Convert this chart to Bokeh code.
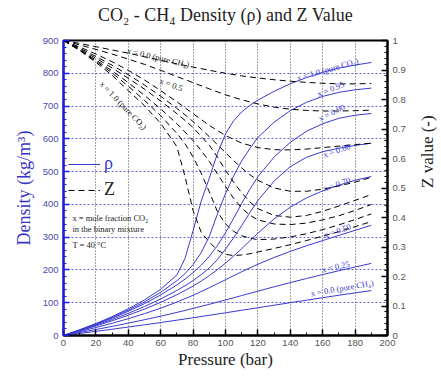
from bokeh.plotting import figure
from bokeh.models import (Range1d, LinearAxis, SingleIntervalTicker, Legend, LegendItem,
                          Label, CustomJSTickFormatter, Title)
from bokeh.core.properties import value
from bokeh.embed import file_html
from bokeh.resources import INLINE
import math

# ---------------- data ----------------
P_fine = [0, 10, 20, 30, 40, 50, 60, 70, 75, 80, 85, 90, 95, 100, 105, 110, 115, 120,
          130, 140, 150, 160, 170, 180, 190]
P_coarse = [0, 10, 20, 30, 40, 50, 60, 70, 80, 90, 100, 110, 120, 130, 140, 150, 160,
            170, 180, 190]

rho_x100 = [0, 17.5, 36.5, 57.5, 81.5, 108.5, 141, 185, 235, 320, 410, 480, 555, 615, 655,
            682, 702, 718, 745, 768, 787, 803, 816, 825, 833]
z_x100 = [1.0, 0.966, 0.926, 0.882, 0.830, 0.779, 0.719, 0.640, 0.539, 0.423, 0.350, 0.317,
          0.289, 0.275, 0.271, 0.273, 0.277, 0.283, 0.295, 0.308, 0.322, 0.337, 0.352, 0.369, 0.386]

rho_x95 = [0, 16.9, 35.2, 55.2, 77.5, 102.7, 131.8, 167.2, 188.8, 216.4, 252.9, 302.4, 370.2,
           433.0, 486.8, 532.6, 570.3, 604.3, 650.6, 686.0, 711.6, 729.4, 741.9, 749.6, 754.7]
z_x95 = [1.0, 0.967, 0.930, 0.890, 0.845, 0.797, 0.745, 0.685, 0.650, 0.605, 0.550, 0.487, 0.420,
         0.378, 0.353, 0.338, 0.330, 0.325, 0.327, 0.334, 0.345, 0.359, 0.375, 0.393, 0.412]

rho_x90 = [0, 16.4, 33.9, 52.9, 73.9, 97.2, 123.7, 154.3, 172.0, 191.9, 214.6, 241.4, 274.4,
           313.4, 357.4, 403.0, 446.1, 484.5, 544.4, 589.3, 623.2, 646.0, 662.7, 672.0, 677.3]
z_x90 = [1.0, 0.968, 0.934, 0.897, 0.857, 0.814, 0.768, 0.718, 0.690, 0.660, 0.627, 0.590, 0.548,
         0.505, 0.465, 0.432, 0.408, 0.392, 0.378, 0.376, 0.381, 0.392, 0.406, 0.424, 0.444]

rho_x80 = [0, 15.2, 31.4, 48.8, 67.7, 88.4, 111.4, 137.4, 151.8, 167.4, 185.8, 205.9, 231.7,
           263.5, 298.0, 335.4, 374.6, 411.8, 471.3, 515.2, 543.8, 560.8, 571.4, 579.9, 586.5]
z_x80 = [1.0, 0.971, 0.940, 0.907, 0.872, 0.835, 0.795, 0.752, 0.729, 0.705, 0.675, 0.645, 0.605,
         0.560, 0.520, 0.484, 0.453, 0.430, 0.407, 0.401, 0.407, 0.421, 0.439, 0.458, 0.478]

rho_x70 = [0, 14.0, 28.9, 44.8, 61.9, 80.6, 101.2, 124.4, 137.2, 151.0, 166.1, 182.7, 200.9,
           220.7, 242.2, 264.9, 288.7, 312.1, 355.7, 391.7, 419.7, 441.3, 458.7, 473.6, 485.0]
z_x70 = [1.0, 0.974, 0.946, 0.916, 0.884, 0.849, 0.811, 0.770, 0.748, 0.725, 0.700, 0.674, 0.647,
         0.620, 0.593, 0.568, 0.545, 0.526, 0.500, 0.489, 0.489, 0.496, 0.507, 0.520, 0.536]

rho_x50 = [0, 11.8, 24.2, 37.3, 51.3, 66.6, 83.4, 101.9, 122.7, 145.8, 170.1, 194.6, 217.3,
           238.0, 256.7, 273.7, 289.7, 305.4, 320.9, 336.1]
z_x50 = [1.0, 0.978, 0.954, 0.928, 0.899, 0.866, 0.830, 0.792, 0.752, 0.712, 0.678, 0.652, 0.637,
         0.630, 0.629, 0.632, 0.637, 0.642, 0.647, 0.652]

rho_x25 = [0, 9.0, 18.2, 27.8, 37.8, 48.1, 59.0, 70.5, 82.6, 95.2, 108.4, 121.8, 135.2, 148.6,
           161.4, 173.9, 186.0, 197.6, 208.9, 220.0]
z_x25 = [1.0, 0.985, 0.970, 0.954, 0.937, 0.919, 0.899, 0.878, 0.857, 0.836, 0.816, 0.799, 0.785,
         0.774, 0.767, 0.763, 0.761, 0.761, 0.762, 0.764]

rho_x00 = [0, 6.2, 12.6, 19.1, 25.8, 32.6, 39.6, 46.8, 54.2, 61.7, 69.3, 77.0, 84.7, 92.4, 100.1,
           107.7, 115.3, 122.8, 130.0, 137.1]
z_x00 = [1.0, 0.990, 0.979, 0.968, 0.957, 0.945, 0.933, 0.921, 0.910, 0.899, 0.889, 0.880, 0.873,
         0.867, 0.862, 0.858, 0.855, 0.853, 0.853, 0.854]

series = [
    (P_fine, rho_x100, z_x100),
    (P_fine, rho_x95, z_x95),
    (P_fine, rho_x90, z_x90),
    (P_fine, rho_x80, z_x80),
    (P_fine, rho_x70, z_x70),
    (P_coarse, rho_x50, z_x50),
    (P_coarse, rho_x25, z_x25),
    (P_coarse, rho_x00, z_x00),
]

# labels on density curves (pressure, density, angle deg)
rho_label_text = ["x = 1.0 (pure CO\u2082)", "x = 0.95", "x = 0.90", "x = 0.80", "x = 0.70",
                  "x = 0.50", "x = 0.25", "x = 0.0 (pure CH\u2084)"]
rho_label_P = [163, 165, 165.5, 168.6, 168.6, 169, 168, 172]
rho_label_rho = [812, 752, 680, 565, 462, 320, 210, 145]
rho_label_ang = [16, 22, 26, 19, 19, 19, 12, 10]

# labels on Z curves
z_label_text = ["x = 0.0 (pure CH\u2084)", "x = 0.5", "x = 1.0 (pure CO\u2082)"]
z_label_P = [58.5, 66.5, 37]
z_label_z = [0.942, 0.851, 0.78]
z_label_ang = [-13, -20, -46]

BLUE = "#3a3ad0"
SERIF = "Liberation Serif"
SANS = "Liberation Sans"

p = figure(frame_width=324, frame_height=295, x_range=Range1d(0, 200), y_range=Range1d(0, 900),
           output_backend="svg", toolbar_location=None,
           min_border_left=63, min_border_right=54, min_border_top=40, min_border_bottom=36)
p.extra_y_ranges = {"z": Range1d(0, 1)}

# spacer between title and frame, then the title itself
p.add_layout(Title(text=" ", text_font_size="10px", standoff=3), "above")
p.add_layout(Title(text="CO\u2082 - CH\u2084 Density (\u03c1) and Z Value", align="center",
                   text_font=SERIF, text_font_size="18px", text_font_style="normal",
                   text_color="#222222", standoff=0), "above")

p.outline_line_color = "black"
p.outline_line_width = 2
p.background_fill_color = "white"
p.border_fill_color = "white"

# axes
p.xaxis.ticker = SingleIntervalTicker(interval=20, num_minor_ticks=2)
p.yaxis.ticker = SingleIntervalTicker(interval=100, num_minor_ticks=5)
p.xaxis.axis_label = "Pressure (bar)"
p.yaxis.axis_label = "Density (kg/m\u00b3)"
for ax in (p.xaxis[0], p.yaxis[0]):
    ax.axis_label_text_font = SERIF
    ax.axis_label_text_font_style = "normal"
    ax.major_label_text_font = SANS
    ax.major_label_text_font_size = "9.5px"
    ax.major_tick_in = 6
    ax.major_tick_out = 0
    ax.minor_tick_in = 3
    ax.minor_tick_out = 0
    ax.axis_line_width = 2
    ax.major_tick_line_width = 1.5
ax = p.xaxis[0]
ax.axis_label_text_font_size = "17px"
ax.axis_label_standoff = 1
ax.major_label_standoff = 4
ax.axis_label_text_color = "#222222"
ax.major_label_text_color = "#555555"
ax = p.yaxis[0]
ax.axis_label_text_font_size = "18px"
ax.axis_line_color = "#1a1aff"
ax.major_tick_line_color = "#1a1aff"
ax.minor_tick_line_color = "#1a1aff"
ax.axis_label_text_color = "#3535c8"
ax.major_label_text_color = "#4a4aa8"
ax.axis_label_standoff = 6

zax = LinearAxis(y_range_name="z", ticker=SingleIntervalTicker(interval=0.1, num_minor_ticks=5),
                 axis_label="Z value (-)")
zax.formatter = CustomJSTickFormatter(code="const s = tick.toFixed(1); return s.endsWith('.0') ? s.slice(0, -2) : s;")
zax.axis_label_text_font = SERIF
zax.axis_label_text_font_size = "17px"
zax.axis_label_text_font_style = "normal"
zax.axis_label_text_color = "#222222"
zax.axis_label_orientation = math.pi / 2
zax.axis_label_standoff = 19
zax.major_label_text_font = SANS
zax.major_label_text_font_size = "9.5px"
zax.major_label_text_color = "#555555"
zax.major_tick_in = 6
zax.major_tick_out = 0
zax.minor_tick_in = 3
zax.minor_tick_out = 0
zax.axis_line_width = 2
zax.major_tick_line_width = 1.5
p.add_layout(zax, "right")

# grids
p.xgrid.grid_line_color = "black"
p.xgrid.grid_line_dash = "1 2"
p.xgrid.grid_line_alpha = 0.7
p.ygrid.grid_line_color = "#3a3ad0"
p.ygrid.grid_line_dash = "2 2"
p.ygrid.grid_line_alpha = 0.8

# curves
rho_renderers = []
z_renderers = []
for P, rho, z in series:
    r1 = p.line(P, rho, line_color=BLUE, line_width=1)
    r2 = p.line(P, z, y_range_name="z", line_color="black", line_width=1, line_dash="6 4")
    rho_renderers.append(r1)
    z_renderers.append(r2)

# curve labels
p.text(x=rho_label_P, y=rho_label_rho, text=rho_label_text,
       angle=[math.radians(a) for a in rho_label_ang],
       text_font=value(SERIF), text_font_size="8.5px", text_color=BLUE,
       text_align="center", text_baseline="middle")
p.text(x=z_label_P, y=z_label_z, text=z_label_text, y_range_name="z",
       angle=[math.radians(a) for a in z_label_ang],
       text_font=value(SERIF), text_font_size="8.5px", text_color="#222222",
       text_align="center", text_baseline="middle")

# legends
leg1 = Legend(items=[LegendItem(label="\u03c1", renderers=[rho_renderers[0]])],
              location=(5, 161), label_text_font=SERIF, label_text_font_size="18px",
              label_text_color="#3535c8", glyph_width=32, glyph_height=18,
              padding=0, margin=0, border_line_color=None, background_fill_alpha=0,
              label_standoff=4)
leg2 = Legend(items=[LegendItem(label="Z", renderers=[z_renderers[0]])],
              location=(5, 135), label_text_font=SERIF, label_text_font_size="18px",
              label_text_color="#222222", glyph_width=32, glyph_height=18,
              padding=0, margin=0, border_line_color=None, background_fill_alpha=0,
              label_standoff=4)
p.add_layout(leg1)
p.add_layout(leg2)

notes = ["x = mole fraction CO\u2082", "in the binary mixture", "T = 40 \u00b0C"]
note_y = [357, 326, 275]
for t, yy in zip(notes, note_y):
    p.add_layout(Label(x=5.5, y=yy, text=t, text_font=SERIF, text_font_size="8.5px",
                       text_color="#222222", text_baseline="middle"))

open("out.html", "w").write(file_html(p, INLINE))
